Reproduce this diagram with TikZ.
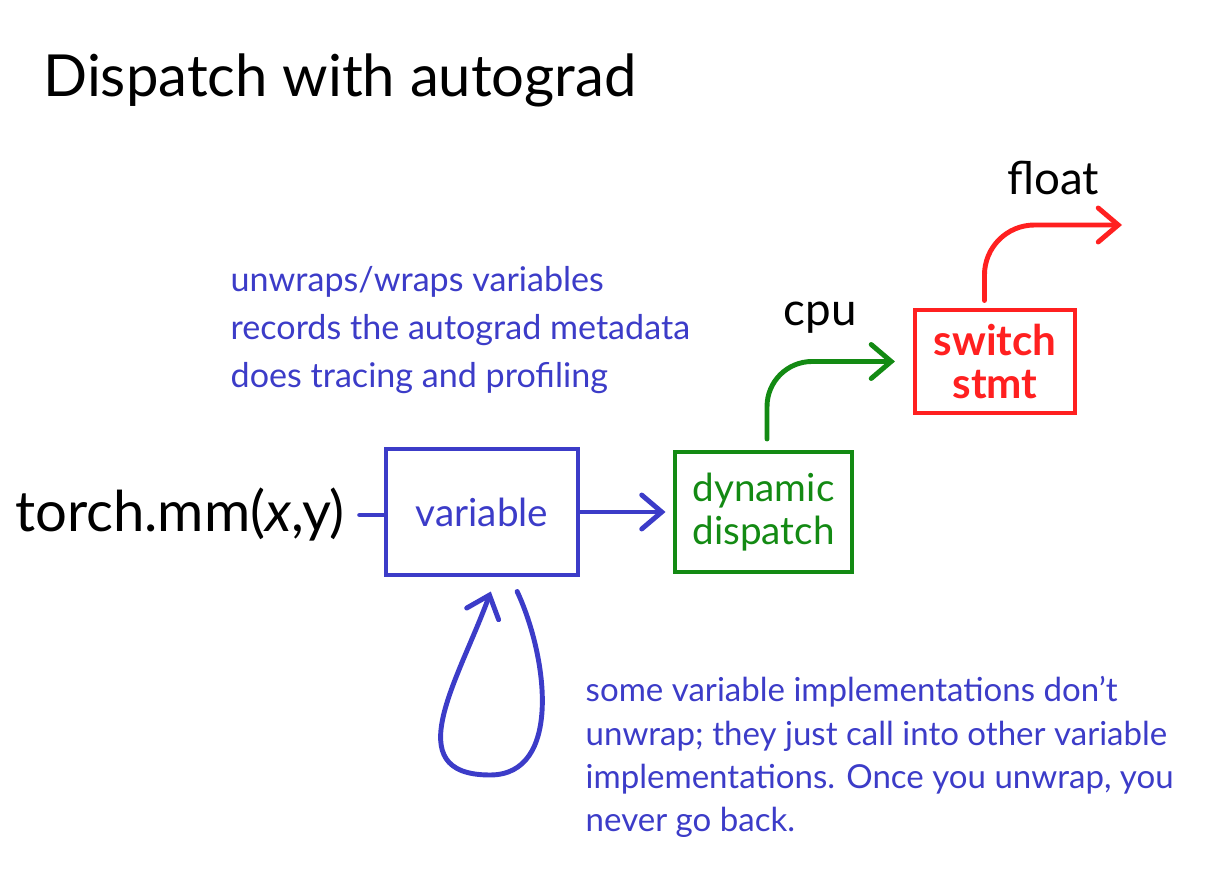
\documentclass[tikz,border=0pt]{standalone}
\usepackage{fontspec}
\setmainfont{Lato}
\usepackage{xcolor}
\usetikzlibrary{arrows.meta,positioning,calc}
\definecolor{penblue}{HTML}{3C3CC8}
\definecolor{pengreen}{HTML}{138A13}
\definecolor{penred}{HTML}{FF2020}

\begin{document}
\begin{tikzpicture}[
  box/.style={draw, rectangle, line width=1.4pt, inner sep=2pt, align=center, font=\fontsize{11}{12}\selectfont},
  note/.style={align=left, anchor=north west, inner sep=0pt, text=penblue},
  lbl/.style={font=\fontsize{13}{14}\selectfont},
  pen/.style={line width=1.4pt, line cap=round, line join=round},
  arr/.style={pen, -{Straight Barb[length=2mm, width=3.4mm, line cap=round]}}
]
  \useasboundingbox (0,0) rectangle (12.16,8.72);

  \node (title) at (3.40,7.92) {\fontsize{16.5}{18}\selectfont Dispatch with autograd};

  \node[font=\fontsize{16}{18}\selectfont, inner sep=1pt] (torch) at (1.80,3.57) {torch.mm(\textit{x},y)};
  \node[box, draw=penblue, text=penblue, minimum width=1.92cm, minimum height=1.26cm] (var) at (4.82,3.60) {variable};
  \node[box, draw=pengreen, text=pengreen, minimum width=1.77cm, minimum height=1.20cm] (dispatch) at (7.635,3.60) {dynamic\\dispatch};
  \node[box, draw=penred, text=penred, minimum width=1.60cm, minimum height=1.03cm, font=\fontsize{12}{12.5}\selectfont\bfseries] (switch) at (9.95,5.105) {switch\\stmt};

  \node[lbl] (cpu) at (8.20,5.54) {cpu};
  \node[lbl] (float) at (10.53,6.94) {float};
  \coordinate (floatend) at (11.22,6.47);

  \node[note, font=\fontsize{9.7}{13.6}\selectfont] (wrapnote) at (2.30,6.06)
    {unwraps/wraps variables\\records the autograd metadata\\does tracing and profiling};
  \node[note, font=\fontsize{9.4}{12.3}\selectfont] (loopnote) at (5.85,1.96)
    {some variable implementations don't\\unwrap; they just call into other variable\\implementations. Once you unwrap, you\\never go back.};

  \draw[pen, penblue] ([xshift=3pt]torch.east) -- (torch.east -| var.west);
  \draw[arr, penblue] (var.east) -- ([xshift=-2pt]dispatch.west);
  \draw[arr, pengreen, rounded corners=0.45cm] ([xshift=1pt, yshift=3pt]dispatch.north) |- ([xshift=-5pt]switch.west);
  \draw[arr, penred, rounded corners=0.5cm] ([xshift=-3pt, yshift=2pt]switch.north) |- (floatend);

  % self loop below the variable box
  \draw[arr, penblue] ([xshift=10pt, yshift=-4pt]var.south) to[out=-65, in=0] (4.90,0.97)
    to[out=180, in=-110, looseness=1.3] ([xshift=2.5pt, yshift=-4pt]var.south);
\end{tikzpicture}
\end{document}
